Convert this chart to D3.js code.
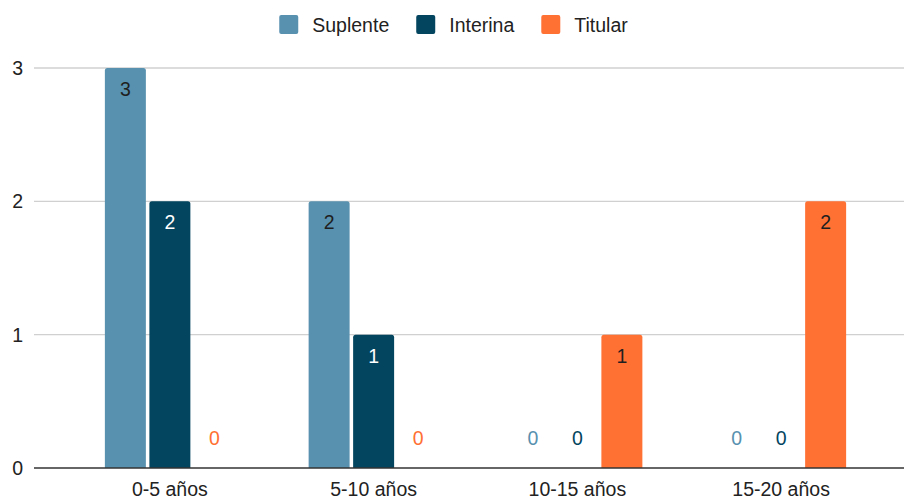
<!DOCTYPE html>
<html>
<head>
<meta charset="utf-8">
<script src="https://cdn.jsdelivr.net/npm/d3@7"></script>
<style>
  html, body { margin: 0; padding: 0; background: #fff; }
  svg { display: block; font-family: Arial, "Liberation Sans", sans-serif; }
</style>
</head>
<body>
<svg id="chart" width="904" height="499"></svg>
<script>
// Años de servicio por tipo de cargo
const categories = ["0-5 años", "5-10 años", "10-15 años", "15-20 años"];
const seriesNames = ["Suplente", "Interina", "Titular"];
const suplente = [3, 2, 0, 0];
const interina = [2, 1, 0, 0];
const titular = [0, 0, 1, 2];
const yTicks = [0, 1, 2, 3];

const seriesValues = [suplente, interina, titular];
const colors = { Suplente: "#5891af", Interina: "#03455f", Titular: "#ff7033" };
const labelInside = { Suplente: "#1f1f1f", Interina: "#ffffff", Titular: "#1f1f1f" };
const FS = 19.5;

const svg = d3.select("#chart");
const plot = { left: 34, right: 904, top: 68, bottom: 468 };

const x = d3.scaleBand().domain(categories).range([68, 883]).padding(0);
const xSub = d3.scaleBand().domain(seriesNames).range([0, 130]).paddingInner(0.079).paddingOuter(0);
const y = d3.scaleLinear().domain([0, 3]).range([plot.bottom, plot.top]);

// Gridlines
svg.append("g")
  .selectAll("line")
  .data(yTicks.filter(t => t !== 0))
  .join("line")
  .attr("x1", plot.left).attr("x2", plot.right)
  .attr("y1", d => y(d)).attr("y2", d => y(d))
  .attr("stroke", "#d0d0d0").attr("stroke-width", 1.3);

// Y tick labels
svg.append("g")
  .selectAll("text")
  .data(yTicks)
  .join("text")
  .attr("x", 23)
  .attr("y", d => y(d))
  .attr("dy", "0.36em")
  .attr("text-anchor", "end")
  .attr("font-size", FS)
  .attr("fill", "#222")
  .text(d => d);

// Bars
const rows = [];
categories.forEach((c, i) => {
  seriesNames.forEach((s, j) => rows.push({ cat: c, series: s, value: seriesValues[j][i] }));
});

const groupOffset = d => x(d.cat) + x.bandwidth() / 2 - 65 + xSub(d.series);

function topRoundedRect(x0, y0, w, h, r) {
  if (h <= 0) return "";
  r = Math.min(r, h, w / 2);
  return `M${x0},${y0 + h}V${y0 + r}Q${x0},${y0} ${x0 + r},${y0}H${x0 + w - r}Q${x0 + w},${y0} ${x0 + w},${y0 + r}V${y0 + h}Z`;
}

svg.append("g")
  .selectAll("path")
  .data(rows.filter(d => d.value > 0))
  .join("path")
  .attr("d", d => topRoundedRect(groupOffset(d), y(d.value), xSub.bandwidth(), y(0) - y(d.value), 2.5))
  .attr("fill", d => colors[d.series]);

// Value labels
svg.append("g")
  .selectAll("text")
  .data(rows)
  .join("text")
  .attr("x", d => groupOffset(d) + xSub.bandwidth() / 2)
  .attr("y", d => d.value > 0 ? y(d.value) + 28 : y(0) - 23)
  .attr("text-anchor", "middle")
  .attr("font-size", FS)
  .attr("fill", d => d.value > 0 ? labelInside[d.series] : colors[d.series])
  .text(d => d.value);

// Baseline
svg.append("line")
  .attr("x1", plot.left).attr("x2", plot.right)
  .attr("y1", y(0)).attr("y2", y(0))
  .attr("stroke", "#333").attr("stroke-width", 1.5);

// X labels
svg.append("g")
  .selectAll("text")
  .data(categories)
  .join("text")
  .attr("x", d => x(d) + x.bandwidth() / 2)
  .attr("y", 496)
  .attr("text-anchor", "middle")
  .attr("font-size", FS)
  .attr("fill", "#222")
  .text(d => d);

// Legend
const legend = svg.append("g");
const items = legend.selectAll("g").data(seriesNames).join("g");
items.append("rect")
  .attr("width", 19).attr("height", 19)
  .attr("rx", 2)
  .attr("y", 15)
  .attr("fill", d => colors[d]);
items.append("text")
  .attr("x", 33)
  .attr("y", 24.5)
  .attr("dy", "0.36em")
  .attr("font-size", FS)
  .attr("fill", "#222")
  .text(d => d);

const widths = [];
items.each(function () {
  widths.push(33 + d3.select(this).select("text").node().getComputedTextLength());
});
const gap = 27;
const total = d3.sum(widths) + gap * (widths.length - 1);
let cursor = 453.5 - total / 2;
items.attr("transform", (d, i) => {
  const t = `translate(${cursor},0)`;
  cursor += widths[i] + gap;
  return t;
});
</script>
</body>
</html>
